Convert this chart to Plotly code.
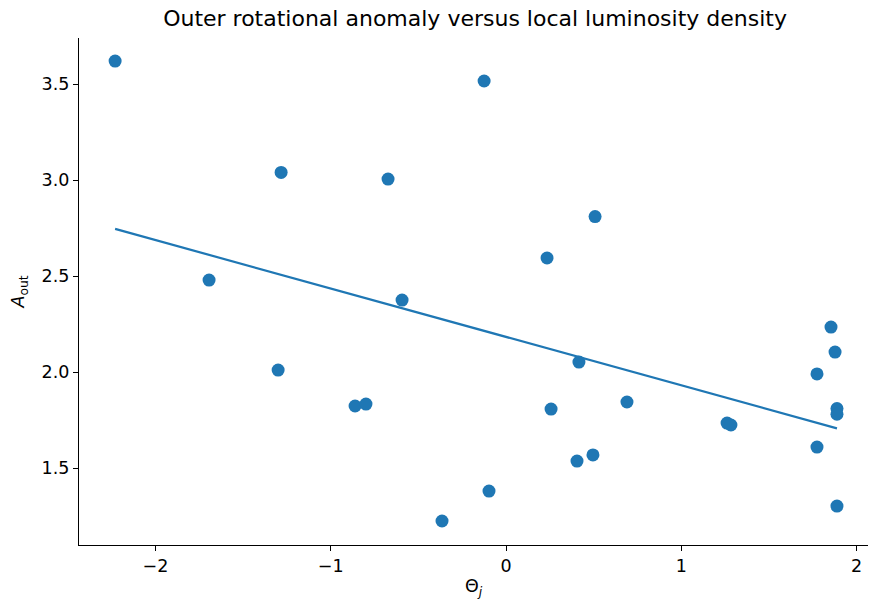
import numpy as np
import plotly.graph_objects as go

# local luminosity density (Theta_j) and outer rotational anomaly (A_out)
theta_j = [-2.23, -0.125, -1.283, -0.673, 0.508, 0.234, -1.694, -0.593,
           1.854, 1.877, 0.416, -1.30, 1.774, -0.861, -0.799, 0.69,
           0.257, 1.888, 1.888, 1.261, 1.283, 1.774, 0.405, 0.496,
           -0.097, -0.365, 1.888]
a_out = [3.62, 3.516, 3.04, 3.005, 2.81, 2.594, 2.479, 2.375,
         2.234, 2.104, 2.052, 2.01, 1.99, 1.823, 1.833, 1.844,
         1.807, 1.81, 1.78, 1.734, 1.724, 1.609, 1.536, 1.568,
         1.38, 1.224, 1.302]

blue = "#1f77b4"

slope, intercept = np.polyfit(theta_j, a_out, 1)
x_fit = np.array([min(theta_j), max(theta_j)])
y_fit = slope * x_fit + intercept

fig = go.Figure()
fig.add_trace(go.Scatter(
    x=theta_j, y=a_out, mode="markers",
    marker=dict(color=blue, size=13, line_width=0)))
fig.add_trace(go.Scatter(
    x=x_fit, y=y_fit, mode="lines",
    line=dict(color=blue, width=2.2)))

axis_style = dict(
    showline=True, linecolor="black", linewidth=1.2, mirror=False,
    ticks="outside", ticklen=5, tickwidth=1.2, tickcolor="black",
    showgrid=False, zeroline=False, automargin=False,
    tickfont=dict(family="DejaVu Sans", size=17.5, color="black"))

fig.update_layout(
    width=869, height=602,
    margin=dict(l=79, r=1, t=38, b=57, autoexpand=False),
    paper_bgcolor="white", plot_bgcolor="white",
    showlegend=False,
    title=dict(text="Outer rotational anomaly versus local luminosity density",
               x=0.502, xanchor="center", y=0.97, yanchor="middle",
               xref="paper",
               font=dict(family="DejaVu Sans", size=22, color="black")),
    xaxis=dict(range=[-2.436, 2.065], tickvals=[-2, -1, 0, 1, 2],
               ticktext=["\u22122", "\u22121", "0", "1", "2"],
               title=dict(text="\u0398<sub><i>j</i></sub>", standoff=4,
                          font=dict(family="DejaVu Sans", size=17.5, color="black")),
               **axis_style),
    yaxis=dict(range=[1.099, 3.74], tickvals=[1.5, 2.0, 2.5, 3.0, 3.5],
               ticktext=["1.5", "2.0", "2.5", "3.0", "3.5"],
               title=dict(text="<i>A</i><sub>out</sub>", standoff=12,
                          font=dict(family="DejaVu Sans", size=17.5, color="black")),
               **axis_style),
)

fig.write_html("out.html", config={"displayModeBar": False},
               post_script="document.body.style.margin='0';"
                           "document.body.style.overflow='hidden';")
